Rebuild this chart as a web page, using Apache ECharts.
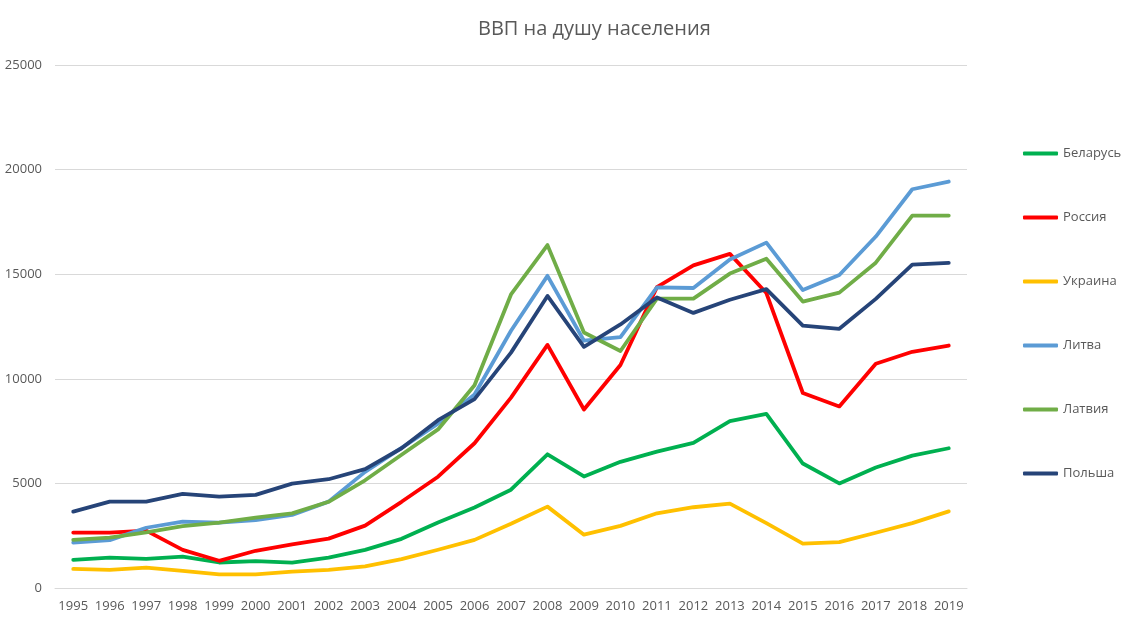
<!DOCTYPE html>
<html>
<head>
<meta charset="utf-8">
<script src="https://cdn.jsdelivr.net/npm/echarts@6/dist/echarts.min.js"></script>
<style>html,body{margin:0;padding:0;background:#fff}#c{width:1144px;height:619px}</style>
</head>
<body>
<div id="c"></div>
<script>
const years = ['1995','1996','1997','1998','1999','2000','2001','2002','2003','2004','2005','2006','2007','2008','2009','2010','2011','2012','2013','2014','2015','2016','2017','2018','2019'];
const belarus = [1340,1450,1390,1500,1220,1280,1210,1450,1820,2350,3130,3850,4700,6390,5330,6030,6520,6940,7980,8320,5950,5000,5760,6330,6680];
const russia = [2650,2650,2740,1820,1300,1780,2090,2360,2980,4120,5320,6920,9100,11620,8530,10660,14380,15420,15970,14100,9320,8680,10720,11290,11590];
const ukraine = [910,870,970,820,650,655,780,870,1030,1380,1830,2300,3070,3890,2550,2970,3570,3860,4030,3100,2120,2190,2640,3100,3660];
const lithuania = [2170,2290,2880,3170,3120,3250,3490,4130,5550,6700,7860,9250,12300,14920,11820,11990,14370,14340,15700,16510,14240,14960,16800,19060,19430];
const latvia = [2300,2410,2660,2960,3120,3360,3570,4120,5150,6370,7580,9690,14030,16390,12210,11330,13830,13830,15030,15740,13690,14120,15550,17800,17800];
const poland = [3650,4130,4130,4500,4370,4450,4990,5200,5680,6680,8020,9030,11250,13960,11530,12600,13890,13150,13780,14290,12540,12390,13820,15460,15540];

const names = ['Беларусь','Россия','Украина','Литва','Латвия','Польша'];
const colors = ['#00B050','#FF0000','#FFC000','#5B9BD5','#70AD47','#264478'];
const dataSets = [belarus, russia, ukraine, lithuania, latvia, poland];

const chart = echarts.init(document.getElementById('c'));
const font = '"Open Sans", "Noto Sans", sans-serif';
chart.setOption({
  animation: false,
  color: colors,
  title: {
    text: 'ВВП на душу населения',
    left: 473, top: 14,
    textStyle: {fontFamily: font, fontSize: 20, fontWeight: 'normal', color: '#595959'}
  },
  legend: {
    orient: 'vertical',
    left: 1023, top: 147, padding: 0,
    icon: 'roundRect',
    itemWidth: 35, itemHeight: 4, itemGap: 51,
    textStyle: {fontFamily: font, fontSize: 13, color: '#595959'},
    data: names
  },
  grid: {left: 55, right: 177, top: 65, bottom: 31},
  xAxis: {
    type: 'category', data: years, boundaryGap: true,
    axisLine: {lineStyle: {color: '#d9d9d9'}},
    axisTick: {show: false},
    axisLabel: {fontFamily: font, fontSize: 13, color: '#595959', margin: 12, interval: 0}
  },
  yAxis: {
    type: 'value', min: 0, max: 25000, interval: 5000,
    axisLine: {show: false}, axisTick: {show: false},
    splitLine: {lineStyle: {color: '#d9d9d9'}},
    axisLabel: {fontFamily: font, fontSize: 13, color: '#595959', margin: 13, formatter: v => String(v)}
  },
  series: names.map((n, i) => ({
    name: n, type: 'line', data: dataSets[i],
    symbol: 'none', showSymbol: false,
    lineStyle: {width: 3.8, color: colors[i], cap: 'round', join: 'round'},
    itemStyle: {color: colors[i]}
  }))
});
</script>
</body>
</html>
